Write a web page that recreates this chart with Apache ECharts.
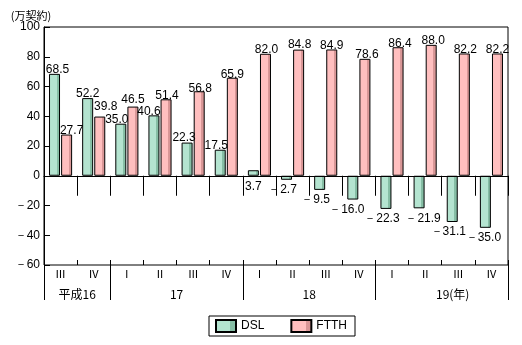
<!DOCTYPE html>
<html><head><meta charset="utf-8">
<script src="https://cdn.jsdelivr.net/npm/echarts@6/dist/echarts.min.js"></script>
<style>html,body{margin:0;padding:0;background:#fff}#c{width:522px;height:345px}</style>
</head><body><div id="c"></div>
<script>
// Quarterly net additions (万契約) by access type
const quarters = ['Ⅲ','Ⅳ','Ⅰ','Ⅱ','Ⅲ','Ⅳ','Ⅰ','Ⅱ','Ⅲ','Ⅳ','Ⅰ','Ⅱ','Ⅲ','Ⅳ'];
const yearLabels = ['平成16','17','18','19(年)'];
const yearSpans = [2, 4, 4, 4];
const dsl  = [68.5, 52.2, 35.0, 40.6, 22.3, 17.5, 3.7, -2.7, -9.5, -16.0, -22.3, -21.9, -31.1, -35.0];
const ftth = [27.7, 39.8, 46.5, 51.4, 56.8, 65.9, 82.0, 84.8, 84.9, 78.6, 86.4, 88.0, 82.2, 82.2];
const yMin = -60, yMax = 100, yStep = 20;

// label nudges [dx, dy] so neighbouring value labels don't collide
const dslNudge  = [[3,0],[0,0],[-4,0],[-5,0],[-3,-1],[-4,0],[0,1],[-4,0],[-4,0],[-6,0],[-4,0],[4,0],[-4,0],[-2,0]];
const ftthNudge = [[5,0],[6,-6],[0,-3],[1,0],[1,1],[0,1],[1,0],[1,-1],[0,0],[2,0],[2,0],[2,0],[1,0],[0,0]];

const FONT = '"Liberation Sans", Arial, sans-serif';
const CJK = '"Noto Sans CJK JP", sans-serif';

function fmt(v){ return v < 0 ? '－' + Math.abs(v).toFixed(1) : v.toFixed(1); }

// Year row: half-quarter slots so labels can sit at span centres and ticks at span edges
const totalSlots = quarters.length * 2;
const yearSlots = new Array(totalSlots + 1).fill('');
const yearEdges = new Set([0]);
let pos = 0;
yearLabels.forEach((lab, i) => {
  yearSlots[pos + yearSpans[i]] = lab;
  pos += yearSpans[i] * 2;
  yearEdges.add(pos);
});

function barColor(light, dark){
  return new echarts.graphic.LinearGradient(0,0,1,0,[
    {offset:0,color:light},{offset:0.7,color:light},{offset:0.7,color:dark},{offset:1,color:dark}
  ]);
}

function makeData(vals, nudge){
  return vals.map((v, i) => {
    const above = v >= 10 || (v >= 0 && i !== 6);
    return {
      value: v,
      label: {position: above ? 'top' : 'bottom', distance: above ? -2 : 4, offset: nudge[i]}
    };
  });
}

const chart = echarts.init(document.getElementById('c'), null, {renderer:'canvas'});
chart.setOption({
  animation: false,
  backgroundColor: '#fff',
  grid: {left:44, right:14, top:27, bottom:80, show:true, borderColor:'#000', borderWidth:1, backgroundColor:'transparent'},
  legend: {
    left: 209, top: 316, itemWidth: 20, itemHeight: 12, itemGap: 26,
    padding: [3, 8, 3, 6], borderColor: '#000', borderWidth: 1,
    icon: 'rect', selectedMode: false,
    textStyle: {fontFamily: FONT, fontSize: 12, color: '#000'},
    data: ['DSL', 'FTTH']
  },
  xAxis: [
    {
      type: 'category', data: quarters, position: 'bottom',
      axisLine: {show: true, lineStyle: {color: '#000', width: 1}},
      axisTick: {show: true, interval: 0, length: 20, lineStyle: {color: '#000'}},
      axisLabel: {interval: 0, margin: 3, fontFamily: CJK, fontSize: 11, color: '#000'},
      splitLine: {show: false}
    },
    {
      type: 'category', data: quarters, position: 'bottom',
      axisLine: {show: false},
      axisTick: {show: true, interval: 0, inside: true, length: 5, lineStyle: {color: '#000'}},
      axisLabel: {show: false}
    },
    {
      type: 'category', data: yearSlots, boundaryGap: false, position: 'bottom',
      axisLine: {show: false},
      axisTick: {show: true, length: 35, interval: (i) => yearEdges.has(i), lineStyle: {color: '#000'}},
      axisLabel: {
        interval: (i, v) => v !== '', margin: 23, fontFamily: CJK, fontSize: 12, color: '#000',
        formatter: (v) => v.indexOf('(') >= 0 ? '{w|' + v + '}' : v,
        rich: {w: {fontFamily: CJK, fontSize: 12, color: '#000', padding: [0, 0, 0, 22]}}
      }
    }
  ],
  yAxis: {
    type: 'value', min: yMin, max: yMax, interval: yStep,
    name: '(万契約)', nameLocation: 'end', nameGap: 4,
    nameTextStyle: {fontFamily: CJK, fontSize: 11, color: '#000', align: 'center', verticalAlign: 'bottom', padding: [0, 26, 0, 0]},
    axisLine: {show: true, lineStyle: {color: '#000'}},
    axisTick: {show: true, inside: true, length: 6, lineStyle: {color: '#000'}},
    axisLabel: {margin: 4, fontFamily: FONT, fontSize: 12, color: '#000',
      formatter: (v) => v < 0 ? '－' + Math.abs(v) : String(v)},
    splitLine: {show: false}
  },
  series: [
    {
      name: 'DSL', type: 'bar', xAxisIndex: 0, barWidth: 11, barGap: '10%',
      itemStyle: {color: barColor('#b4e4d0', '#86bea5'), borderColor: '#000', borderWidth: 1},
      label: {show: true, formatter: (p) => fmt(p.value), fontFamily: FONT, fontSize: 12, color: '#000'},
      data: makeData(dsl, dslNudge),
      markLine: {silent: true, symbol: 'none', label: {show: false},
        lineStyle: {color: '#000', width: 1, type: 'solid'}, data: [{yAxis: 0}]}
    },
    {
      name: 'FTTH', type: 'bar', xAxisIndex: 0, barWidth: 11, barGap: '10%',
      itemStyle: {color: barColor('#ffbfbf', '#d99797'), borderColor: '#000', borderWidth: 1},
      label: {show: true, formatter: (p) => fmt(p.value), fontFamily: FONT, fontSize: 12, color: '#000'},
      data: makeData(ftth, ftthNudge)
    }
  ]
});
</script></body></html>
